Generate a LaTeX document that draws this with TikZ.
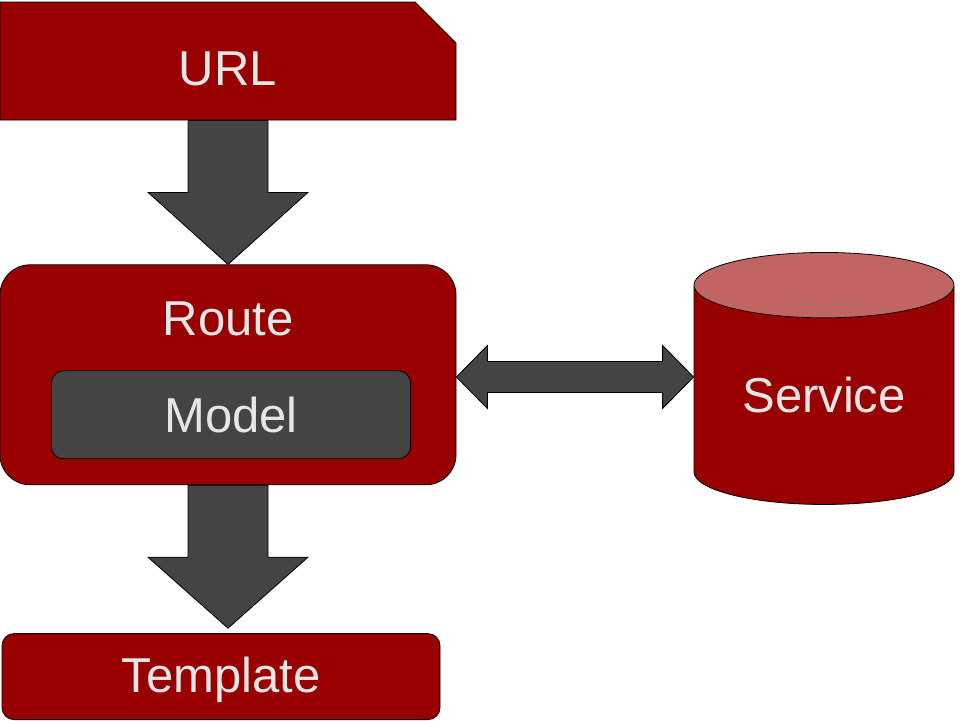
\documentclass[tikz,border=0pt]{standalone}
\usepackage{fontspec}
\setmainfont{Liberation Sans}
\usetikzlibrary{shapes.misc,shapes.geometric,positioning,calc}
\definecolor{boxred}{HTML}{990000}
\definecolor{capred}{HTML}{C06464}
\definecolor{arrowgray}{HTML}{444444}
\definecolor{lighttext}{HTML}{E6E6E6}
\tikzset{
  block/.style = {draw=black, line width=0.8pt, fill=boxred, text=lighttext,
                  inner sep=0pt, font=\fontsize{49}{58}\selectfont},
  fatarrow/.style = {draw=black, line width=0.8pt, fill=arrowgray},
}

\begin{document}
\begin{tikzpicture}[x=1pt,y=-1pt,node distance=144pt]
  \useasboundingbox (0,0) rectangle (960,720);
  \node[block, chamfered rectangle, chamfered rectangle corners=north east,
        chamfered rectangle xsep=21pt, chamfered rectangle ysep=20pt,
        minimum width=456pt, minimum height=118pt, text height=48pt, text depth=0pt] (url) at (228,61) {URL};
  \node[block, rounded corners=30pt, minimum width=456pt, minimum height=220pt,
        below=of url,
        label={[text=lighttext, font=\fontsize{49}{58}\selectfont, anchor=center, yshift=-54pt]north:Route}] (route) {};
  \node[block, fill=arrowgray, rounded corners=12pt, minimum width=359pt,
        minimum height=88pt] (model) at ($(route.center)+(3,40)$) {Model};
  \node[block, rounded corners=12pt, minimum width=438pt, minimum height=86pt,
        below=148pt of route.south, anchor=north, xshift=-7pt, text depth=3pt] (template) {Template};
  \node[block, fill=none, cylinder, shape border rotate=90, aspect=0.4,
        cylinder uses custom fill, cylinder body fill=boxred, cylinder end fill=capred,
        minimum width=260pt, minimum height=252pt] (service) at (824,395) {Service};

  % URL -> Route
  \draw[fatarrow] ($(url.south)+(-40,0)$) -- ($(url.south)+(40,0)$)
    -- ($(route.north)+(40,-72)$) -- ($(route.north)+(80,-72)$) -- (route.north)
    -- ($(route.north)+(-80,-72)$) -- ($(route.north)+(-40,-72)$) -- cycle;
  % Route -> Template
  \draw[fatarrow] ($(route.south)+(-40,0)$) -- ($(route.south)+(40,0)$)
    -- ($(route.south)+(40,72)$) -- ($(route.south)+(80,72)$) -- ($(route.south)+(0,143)$)
    -- ($(route.south)+(-80,72)$) -- ($(route.south)+(-40,72)$) -- cycle;
  % Route <-> Service
  \coordinate (rt) at ($(service.west)+(0,-18)$);
  \coordinate (lt) at (route.east |- rt);
  \draw[fatarrow] (lt) -- ($(lt)+(31,-31.5)$) -- ($(lt)+(31,-15.5)$)
    -- ($(rt)+(-31,-15.5)$) -- ($(rt)+(-31,-31.5)$) -- (rt)
    -- ($(rt)+(-31,31.5)$) -- ($(rt)+(-31,15.5)$)
    -- ($(lt)+(31,15.5)$) -- ($(lt)+(31,31.5)$) -- cycle;
\end{tikzpicture}
\end{document}
